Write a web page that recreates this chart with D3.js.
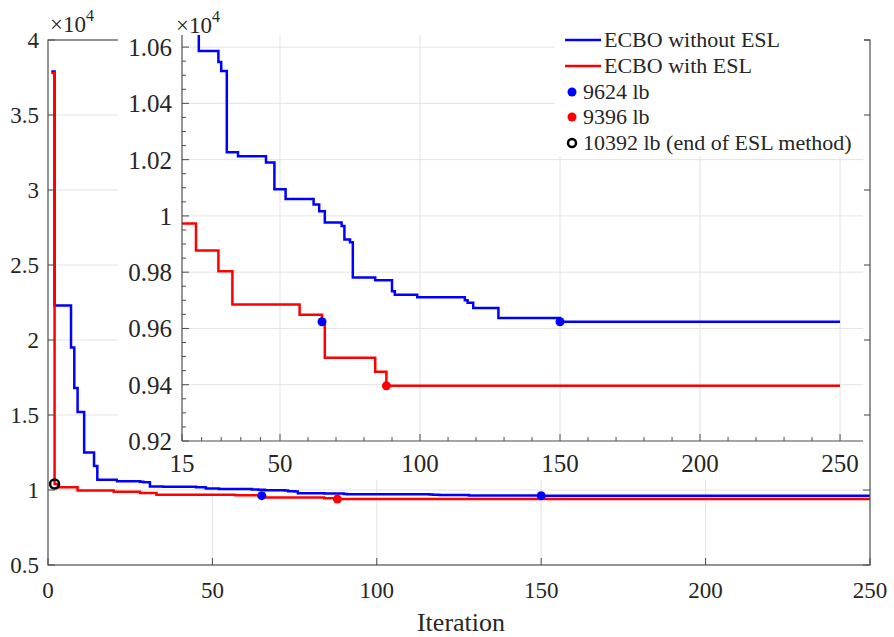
<!DOCTYPE html>
<html lang="en">
<head>
    <meta charset="UTF-8">
    <title>ECBO convergence</title>
    <script src="https://cdn.jsdelivr.net/npm/d3@7"></script>
    <style>
        body { margin: 0; background: #fff; }
        svg { display: block; }
        text { font-family: "Liberation Serif", "Times New Roman", serif; fill: #262626; }
    </style>
</head>
<body>
    <div id="chart-space"></div>

    <script>
        // Best weight (lb) per iteration, stored as change points (iteration where the value changes)
        var blueIter = [1, 2, 7, 8, 9, 11, 14, 15, 21, 28, 29, 31, 35, 45, 48, 52, 62, 64, 66, 72, 73, 75, 76, 84, 90, 91, 99, 116, 117, 119, 128, 150, 250];
        var blueVal  = [37900, 22300, 19500, 16800, 15200, 12500, 11600, 10680, 10586, 10547, 10515, 10226, 10212, 10190, 10095, 10060, 10041, 10017, 9977, 9964, 9916, 9906, 9781, 9771, 9732, 9720, 9711, 9700, 9691, 9673, 9637, 9624, 9624];

        var redIter = [1, 2, 3, 9, 20, 28, 33, 57, 65, 66, 84, 88, 250];
        var redVal  = [37800, 10392, 10180, 9973, 9877, 9803, 9685, 9649, 9624, 9496, 9446, 9396, 9396];

        // highlighted points
        var blueDots = [[65, 9624], [150, 9624]];
        var redDots = [[88, 9396]];
        var blackDots = [[2, 10392]];

        var mainXTicks = [0, 50, 100, 150, 200, 250];
        var mainYTicks = [5000, 10000, 15000, 20000, 25000, 30000, 35000, 40000];
        var insetXTicks = [15, 50, 100, 150, 200, 250];
        var insetYTicks = [9200, 9400, 9600, 9800, 10000, 10200, 10400, 10600];

        var legendLabels = ["ECBO without ESL", "ECBO with ESL", "9624 lb", "9396 lb", "10392 lb (end of ESL method)"];

        var width = 894;
        var height = 637;
        var blue = "#0000ff";
        var red = "#ff0000";
        var axisColor = "#4d4d4d";
        var gridColor = "#e3e3e3";

        var blueData = blueIter.map(function(d, i) { return [d, blueVal[i]]; });
        var redData = redIter.map(function(d, i) { return [d, redVal[i]]; });

        var svg = d3.select("#chart-space")
            .append("svg")
            .attr("width", width)
            .attr("height", height);

        // ---------- main axes ----------
        var x = d3.scaleLinear().domain([0, 250]).range([48, 870]);
        var y = d3.scaleLinear().domain([5000, 40000]).range([565, 40]);

        var main = svg.append("g");

        main.selectAll(".hgrid").data(mainYTicks.slice(1, -1)).join("line")
            .attr("x1", x(0)).attr("x2", x(250))
            .attr("y1", function(d) { return y(d); }).attr("y2", function(d) { return y(d); })
            .attr("stroke", gridColor).attr("stroke-width", 1);
        main.selectAll(".vgrid").data(mainXTicks.slice(1, -1)).join("line")
            .attr("x1", function(d) { return x(d); }).attr("x2", function(d) { return x(d); })
            .attr("y1", y(40000)).attr("y2", y(5000))
            .attr("stroke", gridColor).attr("stroke-width", 1);

        svg.append("clipPath").attr("id", "mainClip").append("rect")
            .attr("x", x(0)).attr("y", y(40000)).attr("width", x(250) - x(0)).attr("height", y(5000) - y(40000));

        function drawSeries(g, sx, sy, clip) {
            var line = d3.line()
                .x(function(d) { return sx(d[0]); })
                .y(function(d) { return sy(d[1]); })
                .curve(d3.curveStepAfter);
            var lg = g.append("g").attr("clip-path", "url(#" + clip + ")");
            lg.append("path").datum(blueData).attr("d", line)
                .attr("fill", "none").attr("stroke", blue).attr("stroke-width", 2.5);
            lg.append("path").datum(redData).attr("d", line)
                .attr("fill", "none").attr("stroke", red).attr("stroke-width", 2.5);
        }

        function drawDots(g, sx, sy, withBlack) {
            g.selectAll(".bdot").data(blueDots).join("circle")
                .attr("cx", function(d) { return sx(d[0]); }).attr("cy", function(d) { return sy(d[1]); })
                .attr("r", 4.5).attr("fill", blue);
            g.selectAll(".rdot").data(redDots).join("circle")
                .attr("cx", function(d) { return sx(d[0]); }).attr("cy", function(d) { return sy(d[1]); })
                .attr("r", 4.5).attr("fill", red);
            if (withBlack) {
                g.selectAll(".kdot").data(blackDots).join("circle")
                    .attr("cx", function(d) { return sx(d[0]); }).attr("cy", function(d) { return sy(d[1]); })
                    .attr("r", 4.5).attr("fill", "none").attr("stroke", "#000").attr("stroke-width", 2.5);
            }
        }

        drawSeries(main, x, y, "mainClip");
        drawDots(main.append("g"), x, y, true);

        // box + ticks (MATLAB style, ticks inside)
        main.append("rect")
            .attr("x", x(0)).attr("y", y(40000)).attr("width", x(250) - x(0)).attr("height", y(5000) - y(40000))
            .attr("fill", "none").attr("stroke", axisColor).attr("stroke-width", 1.2);

        main.selectAll(".ytl").data(mainYTicks).join("line")
            .attr("x1", x(0)).attr("x2", x(0) + 7)
            .attr("y1", function(d) { return y(d); }).attr("y2", function(d) { return y(d); })
            .attr("stroke", axisColor);
        main.selectAll(".ytr").data(mainYTicks).join("line")
            .attr("x1", x(250) - 7).attr("x2", x(250))
            .attr("y1", function(d) { return y(d); }).attr("y2", function(d) { return y(d); })
            .attr("stroke", axisColor);
        main.selectAll(".xtb").data(mainXTicks).join("line")
            .attr("x1", function(d) { return x(d); }).attr("x2", function(d) { return x(d); })
            .attr("y1", y(5000)).attr("y2", y(5000) - 7)
            .attr("stroke", axisColor);

        main.selectAll(".ylab").data(mainYTicks).join("text")
            .attr("x", 39).attr("y", function(d) { return y(d) + 8; })
            .attr("text-anchor", "end").style("font-size", "23px")
            .text(function(d) { return d3.format("~g")(d / 10000); });
        main.selectAll(".xlab").data(mainXTicks).join("text")
            .attr("x", function(d) { return x(d); }).attr("y", 598)
            .attr("text-anchor", "middle").style("font-size", "23px")
            .text(function(d) { return d; });

        var mexp = main.append("text").attr("x", 50).attr("y", 32).style("font-size", "23px");
        mexp.append("tspan").text("\u00d710");
        mexp.append("tspan").attr("dy", -11).style("font-size", "16px").text("4");

        main.append("text")
            .attr("x", x(125) + 2).attr("y", 631)
            .attr("text-anchor", "middle").style("font-size", "26px")
            .text("Iteration");

        // ---------- inset ----------
        var ix = d3.scaleLinear().domain([15, 258.2]).range([182, 863]);
        var iy = d3.scaleLinear().domain([9200, 10643]).range([441, 35]);

        var inset = svg.append("g");

        // white panel that hides the main plot behind the inset
        inset.append("rect")
            .attr("x", 118).attr("y", 0).attr("width", 864 - 118).attr("height", 480)
            .attr("fill", "#fff");

        inset.selectAll(".ihgrid").data(insetYTicks.slice(1)).join("line")
            .attr("x1", ix(15)).attr("x2", ix(258.2))
            .attr("y1", function(d) { return iy(d); }).attr("y2", function(d) { return iy(d); })
            .attr("stroke", gridColor);
        inset.selectAll(".ivgrid").data(insetXTicks.slice(1)).join("line")
            .attr("x1", function(d) { return ix(d); }).attr("x2", function(d) { return ix(d); })
            .attr("y1", iy(10643)).attr("y2", iy(9200))
            .attr("stroke", gridColor);

        svg.append("clipPath").attr("id", "insetClip").append("rect")
            .attr("x", ix(15)).attr("y", iy(10643)).attr("width", ix(258.2) - ix(15)).attr("height", iy(9200) - iy(10643));

        drawSeries(inset, ix, iy, "insetClip");
        drawDots(inset.append("g"), ix, iy, false);

        // inset axes: left and bottom only
        inset.append("line")
            .attr("x1", ix(15)).attr("x2", ix(15)).attr("y1", iy(10643)).attr("y2", iy(9200))
            .attr("stroke", axisColor).attr("stroke-width", 1.2);
        inset.append("line")
            .attr("x1", ix(15)).attr("x2", ix(258.2)).attr("y1", iy(9200)).attr("y2", iy(9200))
            .attr("stroke", axisColor).attr("stroke-width", 1.2);

        var iyMinor = d3.range(9200, 10643, 50);
        inset.selectAll(".iym").data(iyMinor).join("line")
            .attr("x1", ix(15)).attr("x2", function(d) { return ix(15) + (d % 200 === 0 ? 7 : 4); })
            .attr("y1", function(d) { return iy(d); }).attr("y2", function(d) { return iy(d); })
            .attr("stroke", axisColor);

        var ixMinor = d3.range(15, 50, 7).concat(d3.range(50, 258, 10));
        inset.selectAll(".ixm").data(ixMinor).join("line")
            .attr("x1", function(d) { return ix(d); }).attr("x2", function(d) { return ix(d); })
            .attr("y1", iy(9200)).attr("y2", function(d) { return iy(9200) - (insetXTicks.indexOf(d) >= 0 ? 7 : 4); })
            .attr("stroke", axisColor);

        inset.selectAll(".iylab").data(insetYTicks).join("text")
            .attr("x", 172).attr("y", function(d) { return iy(d) + 9; })
            .attr("text-anchor", "end").style("font-size", "25px")
            .text(function(d) { return d3.format("~g")(d / 10000); });
        inset.selectAll(".ixlab").data(insetXTicks).join("text")
            .attr("x", function(d) { return ix(d); }).attr("y", 472)
            .attr("text-anchor", "middle").style("font-size", "25px")
            .text(function(d) { return d; });

        var iexp = inset.append("text").attr("x", 176).attr("y", 33).style("font-size", "23px");
        iexp.append("tspan").text("\u00d710");
        iexp.append("tspan").attr("dy", -11).style("font-size", "16px").text("4");

        // ---------- legend ----------
        var legend = svg.append("g");
        legend.append("rect")
            .attr("x", 555).attr("y", 24).attr("width", 864 - 555).attr("height", 132)
            .attr("fill", "#fff");

        var rowY = [40, 66, 92, 117, 143];
        var lc = [blue, red];
        [0, 1].forEach(function(i) {
            legend.append("line")
                .attr("x1", 565).attr("x2", 601).attr("y1", rowY[i]).attr("y2", rowY[i])
                .attr("stroke", lc[i]).attr("stroke-width", 2.5);
            legend.append("text").attr("x", 604).attr("y", rowY[i] + 7)
                .style("font-size", "22px").text(legendLabels[i]);
        });
        legend.append("circle").attr("cx", 572).attr("cy", rowY[2]).attr("r", 4.5).attr("fill", blue);
        legend.append("circle").attr("cx", 572).attr("cy", rowY[3]).attr("r", 4.5).attr("fill", red);
        legend.append("circle").attr("cx", 572).attr("cy", rowY[4]).attr("r", 4)
            .attr("fill", "none").attr("stroke", "#000").attr("stroke-width", 2.5);
        [2, 3, 4].forEach(function(i) {
            legend.append("text").attr("x", 583).attr("y", rowY[i] + 7)
                .style("font-size", "22px").text(legendLabels[i]);
        });
    </script>
</body>
</html>
